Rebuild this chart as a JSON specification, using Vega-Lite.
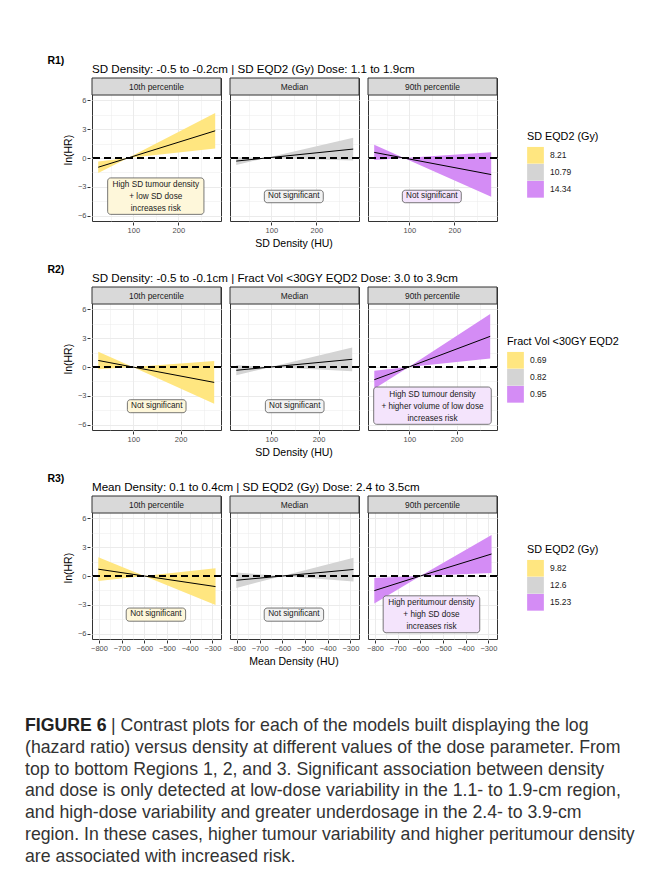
{
  "$schema": "https://vega.github.io/schema/vega-lite/v6.json",
  "padding": {"left": 25, "top": 55, "right": 5, "bottom": 5},
  "background": "white",
  "datasets": {
    "r1": [
      {"kind": "curve", "panel": "10th percentile", "dose": "8.21", "x": 22, "est": -0.96, "lo": -1.56, "hi": -0.36},
      {"kind": "curve", "panel": "10th percentile", "dose": "8.21", "x": 88, "est": 0, "lo": 0, "hi": 0},
      {"kind": "curve", "panel": "10th percentile", "dose": "8.21", "x": 282, "est": 2.83, "lo": 0.98, "hi": 4.68},
      {"kind": "curve", "panel": "Median", "dose": "10.79", "x": 22, "est": -0.32, "lo": -0.72, "hi": 0.08},
      {"kind": "curve", "panel": "Median", "dose": "10.79", "x": 88, "est": 0, "lo": 0, "hi": 0},
      {"kind": "curve", "panel": "Median", "dose": "10.79", "x": 282, "est": 0.93, "lo": -0.25, "hi": 2.1},
      {"kind": "curve", "panel": "90th percentile", "dose": "14.34", "x": 22, "est": 0.585, "lo": -0.2, "hi": 1.37},
      {"kind": "curve", "panel": "90th percentile", "dose": "14.34", "x": 88, "est": 0, "lo": 0, "hi": 0},
      {"kind": "curve", "panel": "90th percentile", "dose": "14.34", "x": 282, "est": -1.72, "lo": -4.03, "hi": 0.59},
      {"kind": "label", "panel": "10th percentile", "dose": "8.21", "x": 150, "y": -3.97, "x1": 43, "x2": 257, "y1": -5.86, "y2": -2.07, "text": ["High SD tumour density", "+ low SD dose", "increases risk"]},
      {"kind": "label", "panel": "Median", "dose": "10.79", "x": 150, "y": -4.0, "x1": 84.5, "x2": 215.5, "y1": -4.65, "y2": -3.35, "text": ["Not significant"]},
      {"kind": "label", "panel": "90th percentile", "dose": "14.34", "x": 150, "y": -4.0, "x1": 84.5, "x2": 215.5, "y1": -4.65, "y2": -3.35, "text": ["Not significant"]},
      {"kind": "strip", "panel": "10th percentile"},
      {"kind": "strip", "panel": "Median"},
      {"kind": "strip", "panel": "90th percentile"}
    ],
    "r2": [
      {"kind": "curve", "panel": "10th percentile", "dose": "0.69", "x": 26, "est": 0.68, "lo": -0.22, "hi": 1.58},
      {"kind": "curve", "panel": "10th percentile", "dose": "0.69", "x": 99, "est": 0, "lo": 0, "hi": 0},
      {"kind": "curve", "panel": "10th percentile", "dose": "0.69", "x": 271, "est": -1.6, "lo": -3.82, "hi": 0.62},
      {"kind": "curve", "panel": "Median", "dose": "0.82", "x": 26, "est": -0.34, "lo": -0.86, "hi": 0.18},
      {"kind": "curve", "panel": "Median", "dose": "0.82", "x": 99, "est": 0, "lo": 0, "hi": 0},
      {"kind": "curve", "panel": "Median", "dose": "0.82", "x": 271, "est": 0.8, "lo": -0.43, "hi": 2.03},
      {"kind": "curve", "panel": "90th percentile", "dose": "0.95", "x": 26, "est": -1.32, "lo": -2.25, "hi": -0.38},
      {"kind": "curve", "panel": "90th percentile", "dose": "0.95", "x": 99, "est": 0, "lo": 0, "hi": 0},
      {"kind": "curve", "panel": "90th percentile", "dose": "0.95", "x": 271, "est": 3.19, "lo": 0.88, "hi": 5.5},
      {"kind": "label", "panel": "10th percentile", "dose": "0.69", "x": 149.5, "y": -4.05, "x1": 87.5, "x2": 211.5, "y1": -4.75, "y2": -3.4, "text": ["Not significant"]},
      {"kind": "label", "panel": "Median", "dose": "0.82", "x": 149.5, "y": -4.05, "x1": 87.5, "x2": 211.5, "y1": -4.75, "y2": -3.4, "text": ["Not significant"]},
      {"kind": "label", "panel": "90th percentile", "dose": "0.95", "x": 149, "y": -4.02, "x1": 24.7, "x2": 273.3, "y1": -5.96, "y2": -2.08, "text": ["High SD tumour density", "+ higher volume of low dose", "increases risk"]},
      {"kind": "strip", "panel": "10th percentile"},
      {"kind": "strip", "panel": "Median"},
      {"kind": "strip", "panel": "90th percentile"}
    ],
    "r3": [
      {"kind": "curve", "panel": "10th percentile", "dose": "9.82", "x": -803, "est": 0.71, "lo": -0.53, "hi": 1.95},
      {"kind": "curve", "panel": "10th percentile", "dose": "9.82", "x": -600, "est": 0, "lo": 0, "hi": 0},
      {"kind": "curve", "panel": "10th percentile", "dose": "9.82", "x": -286, "est": -1.1, "lo": -3.02, "hi": 0.82},
      {"kind": "curve", "panel": "Median", "dose": "12.6", "x": -803, "est": -0.44, "lo": -1.24, "hi": 0.36},
      {"kind": "curve", "panel": "Median", "dose": "12.6", "x": -600, "est": 0, "lo": 0, "hi": 0},
      {"kind": "curve", "panel": "Median", "dose": "12.6", "x": -286, "est": 0.68, "lo": -0.56, "hi": 1.9},
      {"kind": "curve", "panel": "90th percentile", "dose": "15.23", "x": -803, "est": -1.52, "lo": -2.85, "hi": -0.2},
      {"kind": "curve", "panel": "90th percentile", "dose": "15.23", "x": -600, "est": 0, "lo": 0, "hi": 0},
      {"kind": "curve", "panel": "90th percentile", "dose": "15.23", "x": -286, "est": 2.29, "lo": 0.32, "hi": 4.27},
      {"kind": "label", "panel": "10th percentile", "dose": "9.82", "x": -549, "y": -4.0, "x1": -680, "x2": -418, "y1": -4.7, "y2": -3.33, "text": ["Not significant"]},
      {"kind": "label", "panel": "Median", "dose": "12.6", "x": -549, "y": -4.0, "x1": -680, "x2": -418, "y1": -4.7, "y2": -3.33, "text": ["Not significant"]},
      {"kind": "label", "panel": "90th percentile", "dose": "15.23", "x": -551, "y": -3.98, "x1": -764, "x2": -338, "y1": -5.9, "y2": -2.06, "text": ["High peritumour density", "+ high SD dose", "increases risk"]},
      {"kind": "strip", "panel": "10th percentile"},
      {"kind": "strip", "panel": "Median"},
      {"kind": "strip", "panel": "90th percentile"}
    ],
    "cap": [
      {"line": 1, "part": "head", "text": "FIGURE 6"},
      {"line": 1, "part": "body", "text": "| Contrast plots for each of the models built displaying the log"},
      {"line": 2, "part": "rest", "text": "(hazard ratio) versus density at different values of the dose parameter. From"},
      {"line": 3, "part": "rest", "text": "top to bottom Regions 1, 2, and 3. Significant association between density"},
      {"line": 4, "part": "rest", "text": "and dose is only detected at low-dose variability in the 1.1- to 1.9-cm region,"},
      {"line": 5, "part": "rest", "text": "and high-dose variability and greater underdosage in the 2.4- to 3.9-cm"},
      {"line": 6, "part": "rest", "text": "region. In these cases, higher tumour variability and higher peritumour density"},
      {"line": 7, "part": "rest", "text": "are associated with increased risk."}
    ]
  },
  "vconcat": [
    {
      "title": {"text": "R1)", "anchor": "start", "frame": "bounds", "dx": -16, "fontSize": 10.5, "fontWeight": "bold", "offset": -2},
      "vconcat": [
        {
          "title": {"text": "SD Density: -0.5 to -0.2cm | SD EQD2 (Gy) Dose: 1.1 to 1.9cm", "anchor": "start", "frame": "group", "fontSize": 11.6, "fontWeight": "normal", "offset": 1},
          "data": {"name": "r1"},
          "spacing": 5,
          "facet": {"column": {"field": "panel", "type": "nominal", "sort": ["10th percentile", "Median", "90th percentile"], "header": {"labels": false, "title": "SD Density (HU)", "titleOrient": "bottom", "titleFontSize": 10.5, "titleFontWeight": "normal", "titleColor": "black", "titlePadding": -5}}},
          "spec": {
            "width": 129, "height": 143,
            "resolve": {"axis": {"x": "independent", "y": "independent"}},
            "layer": [
              {
                "transform": [{"filter": "datum.kind === 'curve'"}],
                "mark": {"type": "area", "opacity": 1},
                "encoding": {
                  "x": {"field": "x", "type": "quantitative", "scale": {"domain": [8.2, 294.9], "nice": false, "zero": false}, "axis": {"values": [100, 200], "title": null, "grid": true, "orient": "bottom"}},
                  "y": {"field": "lo", "type": "quantitative", "scale": {"domain": [-6.55, 8.32], "nice": false, "zero": false}, "axis": {"values": [-6, -3, 0, 3, 6], "title": "ln(HR)", "grid": true, "orient": "left"}},
                  "y2": {"field": "hi"},
                  "color": {"field": "dose", "type": "nominal", "scale": {"domain": ["8.21", "10.79", "14.34"], "range": ["#FFE680", "#D4D4D4", "#D48CF5"]}, "legend": {"title": "SD EQD2 (Gy)", "orient": "none", "legendX": 435, "legendY": 53}}
                }
              },
              {
                "transform": [{"filter": "datum.kind === 'curve'"}],
                "mark": {"type": "line", "color": "black", "strokeWidth": 1},
                "encoding": {
                  "x": {"field": "x", "type": "quantitative", "axis": {"values": [50, 150, 250], "labels": false, "ticks": false, "domain": false, "grid": true, "gridWidth": 0.5, "title": null, "orient": "bottom"}},
                  "y": {"field": "est", "type": "quantitative", "axis": {"values": [-4.5, -1.5, 1.5, 4.5], "labels": false, "ticks": false, "domain": false, "grid": true, "gridWidth": 0.5, "title": null, "orient": "left"}}
                }
              },
              {
                "transform": [{"filter": "datum.kind === 'strip'"}],
                "mark": {"type": "rule", "color": "black", "strokeWidth": 1.8, "strokeDash": [7, 4]},
                "encoding": {"y": {"datum": 0, "type": "quantitative", "axis": null}}
              },
              {
                "transform": [{"filter": "datum.kind === 'label'"}],
                "mark": {"type": "rect", "stroke": "#555555", "strokeWidth": 0.8, "cornerRadius": 3},
                "encoding": {
                  "x": {"field": "x1", "type": "quantitative", "axis": null}, "x2": {"field": "x2"},
                  "y": {"field": "y1", "type": "quantitative", "axis": null}, "y2": {"field": "y2"},
                  "fill": {"field": "dose", "type": "nominal", "scale": {"domain": ["8.21", "10.79", "14.34"], "range": ["#FEF7DA", "#F2F2F2", "#F4E4FC"]}, "legend": null}
                }
              },
              {
                "transform": [{"filter": "datum.kind === 'label' && length(datum.text) === 1"}],
                "mark": {"type": "text", "fontSize": 8.2, "color": "#1A1A1A", "baseline": "middle"},
                "encoding": {
                  "x": {"field": "x", "type": "quantitative", "axis": null},
                  "y": {"field": "y", "type": "quantitative", "axis": null},
                  "text": {"field": "text"}
                }
              },
              {
                "transform": [{"filter": "datum.kind === 'label' && length(datum.text) > 1"}],
                "mark": {"type": "text", "fontSize": 8.2, "color": "#1A1A1A", "lineHeight": 12, "baseline": "top", "dy": -15},
                "encoding": {
                  "x": {"field": "x", "type": "quantitative", "axis": null},
                  "y": {"field": "y", "type": "quantitative", "axis": null},
                  "text": {"field": "text"}
                }
              },
              {
                "transform": [{"filter": "datum.kind === 'strip'"}],
                "mark": {"type": "rect", "fill": "#D9D9D9", "stroke": "#333333", "strokeWidth": 1},
                "encoding": {
                  "x": {"datum": 8.2, "type": "quantitative", "axis": null}, "x2": {"datum": 294.9},
                  "y": {"datum": 6.55, "type": "quantitative", "axis": null}, "y2": {"datum": 8.32}
                }
              },
              {
                "transform": [{"filter": "datum.kind === 'strip'"}],
                "mark": {"type": "text", "fontSize": 8.4, "color": "#1A1A1A", "baseline": "middle"},
                "encoding": {
                  "x": {"datum": 151.55, "type": "quantitative", "axis": null},
                  "y": {"datum": 7.43, "type": "quantitative", "axis": null},
                  "text": {"field": "panel"}
                }
              }
            ]
          }
        }
      ]
    },
    {
      "title": {"text": "R2)", "anchor": "start", "frame": "bounds", "dx": -16, "fontSize": 10.5, "fontWeight": "bold", "offset": -2},
      "vconcat": [
        {
          "title": {"text": "SD Density: -0.5 to -0.1cm | Fract Vol <30GY EQD2 Dose: 3.0 to 3.9cm", "anchor": "start", "frame": "group", "fontSize": 11.6, "fontWeight": "normal", "offset": 1},
          "data": {"name": "r2"},
          "spacing": 5,
          "facet": {"column": {"field": "panel", "type": "nominal", "sort": ["10th percentile", "Median", "90th percentile"], "header": {"labels": false, "title": "SD Density (HU)", "titleOrient": "bottom", "titleFontSize": 10.5, "titleFontWeight": "normal", "titleColor": "black", "titlePadding": -5}}},
          "spec": {
            "width": 129, "height": 143,
            "resolve": {"axis": {"x": "independent", "y": "independent"}},
            "layer": [
              {
                "transform": [{"filter": "datum.kind === 'curve'"}],
                "mark": {"type": "area", "opacity": 1},
                "encoding": {
                  "x": {"field": "x", "type": "quantitative", "scale": {"domain": [12.7, 285.4], "nice": false, "zero": false}, "axis": {"values": [100, 200], "title": null, "grid": true, "orient": "bottom"}},
                  "y": {"field": "lo", "type": "quantitative", "scale": {"domain": [-6.55, 8.32], "nice": false, "zero": false}, "axis": {"values": [-6, -3, 0, 3, 6], "title": "ln(HR)", "grid": true, "orient": "left"}},
                  "y2": {"field": "hi"},
                  "color": {"field": "dose", "type": "nominal", "scale": {"domain": ["0.69", "0.82", "0.95"], "range": ["#FFE680", "#D4D4D4", "#D48CF5"]}, "legend": {"title": "Fract Vol <30GY EQD2", "orient": "none", "legendX": 415, "legendY": 49}}
                }
              },
              {
                "transform": [{"filter": "datum.kind === 'curve'"}],
                "mark": {"type": "line", "color": "black", "strokeWidth": 1},
                "encoding": {
                  "x": {"field": "x", "type": "quantitative", "axis": {"values": [50, 150, 250], "labels": false, "ticks": false, "domain": false, "grid": true, "gridWidth": 0.5, "title": null, "orient": "bottom"}},
                  "y": {"field": "est", "type": "quantitative", "axis": {"values": [-4.5, -1.5, 1.5, 4.5], "labels": false, "ticks": false, "domain": false, "grid": true, "gridWidth": 0.5, "title": null, "orient": "left"}}
                }
              },
              {
                "transform": [{"filter": "datum.kind === 'strip'"}],
                "mark": {"type": "rule", "color": "black", "strokeWidth": 1.8, "strokeDash": [7, 4]},
                "encoding": {"y": {"datum": 0, "type": "quantitative", "axis": null}}
              },
              {
                "transform": [{"filter": "datum.kind === 'label'"}],
                "mark": {"type": "rect", "stroke": "#555555", "strokeWidth": 0.8, "cornerRadius": 3},
                "encoding": {
                  "x": {"field": "x1", "type": "quantitative", "axis": null}, "x2": {"field": "x2"},
                  "y": {"field": "y1", "type": "quantitative", "axis": null}, "y2": {"field": "y2"},
                  "fill": {"field": "dose", "type": "nominal", "scale": {"domain": ["0.69", "0.82", "0.95"], "range": ["#FEF7DA", "#F2F2F2", "#F4E4FC"]}, "legend": null}
                }
              },
              {
                "transform": [{"filter": "datum.kind === 'label' && length(datum.text) === 1"}],
                "mark": {"type": "text", "fontSize": 8.2, "color": "#1A1A1A", "baseline": "middle"},
                "encoding": {
                  "x": {"field": "x", "type": "quantitative", "axis": null},
                  "y": {"field": "y", "type": "quantitative", "axis": null},
                  "text": {"field": "text"}
                }
              },
              {
                "transform": [{"filter": "datum.kind === 'label' && length(datum.text) > 1"}],
                "mark": {"type": "text", "fontSize": 8.2, "color": "#1A1A1A", "lineHeight": 12, "baseline": "top", "dy": -15},
                "encoding": {
                  "x": {"field": "x", "type": "quantitative", "axis": null},
                  "y": {"field": "y", "type": "quantitative", "axis": null},
                  "text": {"field": "text"}
                }
              },
              {
                "transform": [{"filter": "datum.kind === 'strip'"}],
                "mark": {"type": "rect", "fill": "#D9D9D9", "stroke": "#333333", "strokeWidth": 1},
                "encoding": {
                  "x": {"datum": 12.7, "type": "quantitative", "axis": null}, "x2": {"datum": 285.4},
                  "y": {"datum": 6.55, "type": "quantitative", "axis": null}, "y2": {"datum": 8.32}
                }
              },
              {
                "transform": [{"filter": "datum.kind === 'strip'"}],
                "mark": {"type": "text", "fontSize": 8.4, "color": "#1A1A1A", "baseline": "middle"},
                "encoding": {
                  "x": {"datum": 149.05, "type": "quantitative", "axis": null},
                  "y": {"datum": 7.43, "type": "quantitative", "axis": null},
                  "text": {"field": "panel"}
                }
              }
            ]
          }
        }
      ]
    },
    {
      "title": {"text": "R3)", "anchor": "start", "frame": "bounds", "dx": -16, "fontSize": 10.5, "fontWeight": "bold", "offset": -2},
      "vconcat": [
        {
          "title": {"text": "Mean Density: 0.1 to 0.4cm | SD EQD2 (Gy) Dose: 2.4 to 3.5cm", "anchor": "start", "frame": "group", "fontSize": 11.6, "fontWeight": "normal", "offset": 1},
          "data": {"name": "r3"},
          "spacing": 5,
          "facet": {"column": {"field": "panel", "type": "nominal", "sort": ["10th percentile", "Median", "90th percentile"], "header": {"labels": false, "title": "Mean Density (HU)", "titleOrient": "bottom", "titleFontSize": 10.5, "titleFontWeight": "normal", "titleColor": "black", "titlePadding": -5}}},
          "spec": {
            "width": 129, "height": 143,
            "resolve": {"axis": {"x": "independent", "y": "independent"}},
            "layer": [
              {
                "transform": [{"filter": "datum.kind === 'curve'"}],
                "mark": {"type": "area", "opacity": 1},
                "encoding": {
                  "x": {"field": "x", "type": "quantitative", "scale": {"domain": [-830.9, -261.9], "nice": false, "zero": false}, "axis": {"values": [-800, -700, -600, -500, -400, -300], "title": null, "grid": true, "orient": "bottom"}},
                  "y": {"field": "lo", "type": "quantitative", "scale": {"domain": [-6.55, 8.32], "nice": false, "zero": false}, "axis": {"values": [-6, -3, 0, 3, 6], "title": "ln(HR)", "grid": true, "orient": "left"}},
                  "y2": {"field": "hi"},
                  "color": {"field": "dose", "type": "nominal", "scale": {"domain": ["9.82", "12.6", "15.23"], "range": ["#FFE680", "#D4D4D4", "#D48CF5"]}, "legend": {"title": "SD EQD2 (Gy)", "orient": "none", "legendX": 435, "legendY": 48}}
                }
              },
              {
                "transform": [{"filter": "datum.kind === 'curve'"}],
                "mark": {"type": "line", "color": "black", "strokeWidth": 1},
                "encoding": {
                  "x": {"field": "x", "type": "quantitative", "axis": {"values": [-750, -650, -550, -450, -350], "labels": false, "ticks": false, "domain": false, "grid": true, "gridWidth": 0.5, "title": null, "orient": "bottom"}},
                  "y": {"field": "est", "type": "quantitative", "axis": {"values": [-4.5, -1.5, 1.5, 4.5], "labels": false, "ticks": false, "domain": false, "grid": true, "gridWidth": 0.5, "title": null, "orient": "left"}}
                }
              },
              {
                "transform": [{"filter": "datum.kind === 'strip'"}],
                "mark": {"type": "rule", "color": "black", "strokeWidth": 1.8, "strokeDash": [7, 4]},
                "encoding": {"y": {"datum": 0, "type": "quantitative", "axis": null}}
              },
              {
                "transform": [{"filter": "datum.kind === 'label'"}],
                "mark": {"type": "rect", "stroke": "#555555", "strokeWidth": 0.8, "cornerRadius": 3},
                "encoding": {
                  "x": {"field": "x1", "type": "quantitative", "axis": null}, "x2": {"field": "x2"},
                  "y": {"field": "y1", "type": "quantitative", "axis": null}, "y2": {"field": "y2"},
                  "fill": {"field": "dose", "type": "nominal", "scale": {"domain": ["9.82", "12.6", "15.23"], "range": ["#FEF7DA", "#F2F2F2", "#F4E4FC"]}, "legend": null}
                }
              },
              {
                "transform": [{"filter": "datum.kind === 'label' && length(datum.text) === 1"}],
                "mark": {"type": "text", "fontSize": 8.2, "color": "#1A1A1A", "baseline": "middle"},
                "encoding": {
                  "x": {"field": "x", "type": "quantitative", "axis": null},
                  "y": {"field": "y", "type": "quantitative", "axis": null},
                  "text": {"field": "text"}
                }
              },
              {
                "transform": [{"filter": "datum.kind === 'label' && length(datum.text) > 1"}],
                "mark": {"type": "text", "fontSize": 8.2, "color": "#1A1A1A", "lineHeight": 12, "baseline": "top", "dy": -15},
                "encoding": {
                  "x": {"field": "x", "type": "quantitative", "axis": null},
                  "y": {"field": "y", "type": "quantitative", "axis": null},
                  "text": {"field": "text"}
                }
              },
              {
                "transform": [{"filter": "datum.kind === 'strip'"}],
                "mark": {"type": "rect", "fill": "#D9D9D9", "stroke": "#333333", "strokeWidth": 1},
                "encoding": {
                  "x": {"datum": -830.9, "type": "quantitative", "axis": null}, "x2": {"datum": -261.9},
                  "y": {"datum": 6.55, "type": "quantitative", "axis": null}, "y2": {"datum": 8.32}
                }
              },
              {
                "transform": [{"filter": "datum.kind === 'strip'"}],
                "mark": {"type": "text", "fontSize": 8.4, "color": "#1A1A1A", "baseline": "middle"},
                "encoding": {
                  "x": {"datum": -546.4, "type": "quantitative", "axis": null},
                  "y": {"datum": 7.43, "type": "quantitative", "axis": null},
                  "text": {"field": "panel"}
                }
              }
            ]
          }
        }
      ]
    },
    {
      "data": {"name": "cap"},
      "width": 610, "height": 175,
      "view": {"stroke": null},
      "layer": [
        {
          "transform": [{"filter": "datum.part === 'head'"}],
          "mark": {"type": "text", "align": "left", "baseline": "middle", "fontSize": 17.7, "fontWeight": "bold", "color": "#222222", "dx": -67},
          "encoding": {
            "x": {"value": 0},
            "y": {"field": "line", "type": "quantitative", "scale": {"domain": [-0.29, 7], "reverse": true}, "axis": null},
            "text": {"field": "text"}
          }
        },
        {
          "transform": [{"filter": "datum.part === 'body'"}],
          "mark": {"type": "text", "align": "left", "baseline": "middle", "fontSize": 17.7, "color": "#333333", "dx": 19},
          "encoding": {
            "x": {"value": 0},
            "y": {"field": "line", "type": "quantitative", "axis": null},
            "text": {"field": "text"}
          }
        },
        {
          "transform": [{"filter": "datum.part === 'rest'"}],
          "mark": {"type": "text", "align": "left", "baseline": "middle", "fontSize": 17.7, "color": "#333333", "dx": -67},
          "encoding": {
            "x": {"value": 0},
            "y": {"field": "line", "type": "quantitative", "axis": null},
            "text": {"field": "text"}
          }
        }
      ]
    }
  ],
  "spacing": 14,
  "resolve": {"scale": {"color": "independent", "fill": "independent", "x": "independent", "y": "independent"}, "legend": {"color": "independent"}},
  "config": {
    "font": "Liberation Sans",
    "view": {"stroke": "#333333", "strokeWidth": 1},
    "axis": {"domain": false, "gridColor": "#EBEBEB", "gridWidth": 1, "tickColor": "#333333", "tickSize": 3, "labelFontSize": 7.5, "labelColor": "#4D4D4D", "labelPadding": 1, "titleFontSize": 10.5, "titleFontWeight": "normal", "titleColor": "black", "titlePadding": 4},
    "legend": {"symbolType": "square", "symbolSize": 280, "symbolStrokeWidth": 0, "symbolOpacity": 1, "rowPadding": 0, "labelFontSize": 8.5, "labelColor": "#1A1A1A", "labelOffset": 6, "titleFontSize": 10.8, "titleFontWeight": "normal", "titleColor": "black", "titlePadding": 5},
    "title": {"color": "black", "font": "Liberation Sans"}
  }
}
